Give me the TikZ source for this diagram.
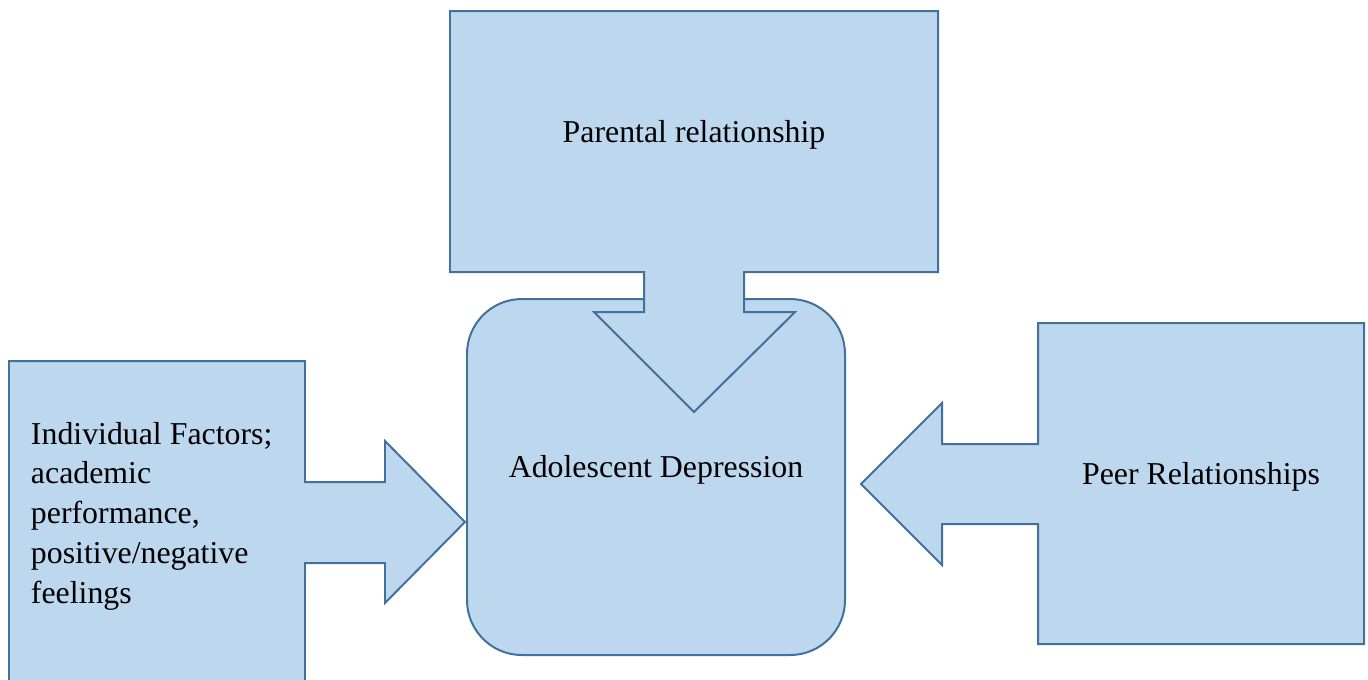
\documentclass[tikz,border=0pt]{standalone}
\usepackage{fontspec}
\setmainfont{Liberation Serif}
\usetikzlibrary{positioning}
\definecolor{boxfill}{HTML}{BDD7EE}
\definecolor{boxline}{HTML}{41719C}

\begin{document}
\begin{tikzpicture}[x=0.377pt,y=-0.377pt,line width=0.75pt,
	  callout/.style={draw=boxline,fill=boxfill,line join=miter},
	  txt/.style={inner sep=0pt,font=\fontsize{12}{15}\selectfont}]
	  \clip (0,0) rectangle (1368,679);

	  % centre box
	  \draw[callout,rounded corners=20.7pt] (467,299) rectangle (845,655);

	  % arrow callouts
	  \draw[callout] (450,11) -- (938,11) -- (938,272) -- (744,272) -- (744,312) -- (795,312)
	    -- (694,412) -- (594,312) -- (644,312) -- (644,272) -- (450,272) -- cycle;
	  \draw[callout] (9,361) -- (305,361) -- (305,482) -- (385,482) -- (385,441) -- (465,522)
	    -- (385,603) -- (385,563) -- (305,563) -- (305,690) -- (9,690) -- cycle;
	  \draw[callout] (1038,323) -- (1364,323) -- (1364,644) -- (1038,644) -- (1038,524) -- (942,524)
	    -- (942,565) -- (861,484) -- (942,403) -- (942,444) -- (1038,444) -- cycle;

	  \node[txt,anchor=base] (P) at (694,142) {Parental relationship};
	  \node[txt,anchor=base] (A) at (656,477) {Adolescent Depression};
	  \node[txt,anchor=base] (R) at (1201,484) {Peer Relationships};
	  \node[txt,anchor=west,align=left] (I) at (30,516)
	    {Individual Factors;\\academic\\performance,\\positive/negative\\feelings};
\end{tikzpicture}
\end{document}
